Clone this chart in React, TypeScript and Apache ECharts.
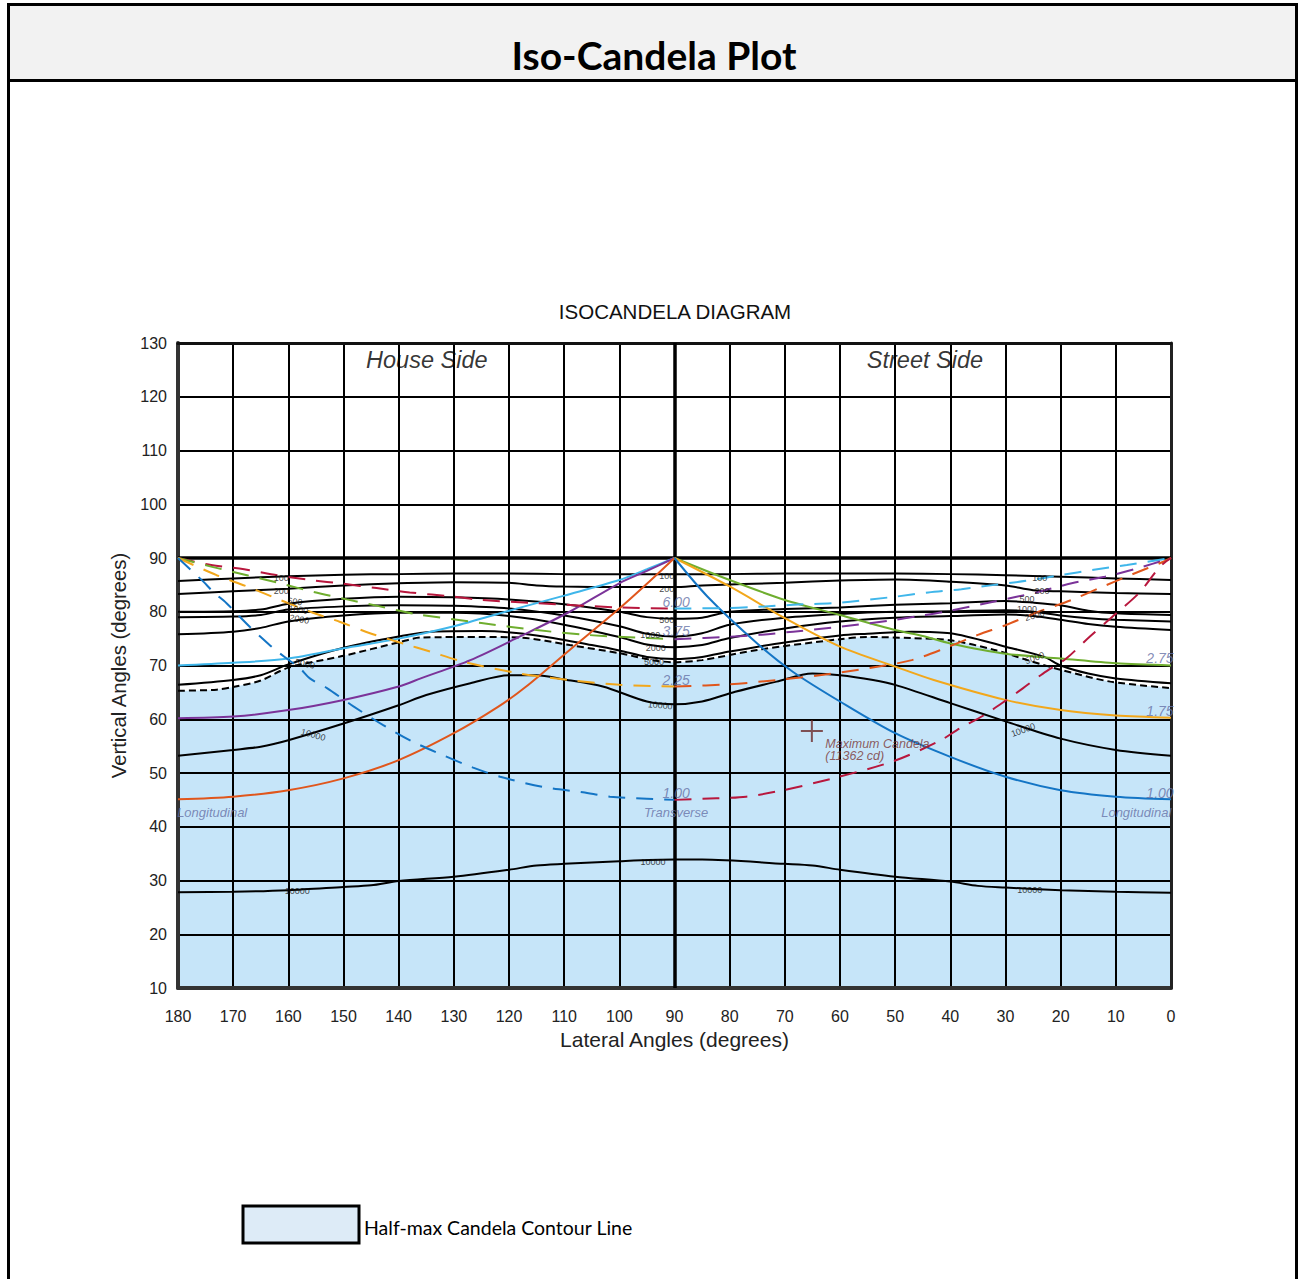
import React, { useEffect, useRef } from "react";
import * as echarts from "echarts";

// ---------- data (lateral angle, vertical angle) ----------
const c100 = [[180,85.7],[170,86.2],[160,86.6],[150,86.9],[140,87.0],[130,87.1],[120,87.1],[110,87.0],[100,87.0],[90,87.0],[80,87.0],[70,87.1],[60,87.1],[50,87.1],[40,87.0],[30,86.8],[20,86.5],[10,86.2],[0,85.9]];
const c200 = [[180,83.3],[170,83.8],[160,84.3],[150,84.9],[140,85.3],[130,85.5],[120,85.4],[115,84.9],[110,84.7],[100,84.6],[90,84.6],[85,84.9],[70,85.4],[60,85.8],[50,86.0],[40,85.6],[30,84.9],[25,84.0],[20,83.8],[10,83.5],[0,83.3]];
const c500 = [[180,80.0],[170,80.1],[165,80.4],[160,81.5],[150,82.4],[140,82.8],[130,82.7],[120,82.3],[110,81.4],[100,80.0],[95,79.0],[90,78.7],[85,78.9],[80,80.0],[70,80.5],[60,80.8],[50,81.3],[40,81.6],[30,82.0],[25,81.7],[20,81.2],[15,80.2],[10,79.7],[0,79.4]];
const c1000 = [[180,79.0],[170,79.1],[165,79.4],[160,80.4],[150,81.0],[140,81.2],[130,81.1],[120,80.6],[110,79.3],[100,77.3],[95,75.9],[90,75.4],[85,76.0],[80,77.6],[70,78.9],[60,79.6],[50,80.0],[40,80.1],[30,80.3],[25,80.0],[20,79.3],[15,78.8],[10,78.5],[0,78.2]];
const c2000 = [[180,75.8],[170,76.3],[165,77.0],[160,78.2],[150,79.3],[140,79.8],[130,79.8],[120,79.2],[110,77.6],[100,75.3],[95,73.9],[90,73.4],[85,73.8],[80,75.1],[70,76.9],[60,78.2],[50,78.9],[40,79.2],[30,79.5],[25,79.2],[20,78.5],[15,77.7],[10,77.2],[0,76.6]];
const c5000 = [[180,66.4],[170,67.3],[165,68.2],[160,70.2],[150,73.3],[140,75.4],[134,76.3],[125,76.4],[115,75.6],[105,73.8],[100,72.8],[95,71.6],[90,71.2],[85,71.6],[80,72.6],[70,74.3],[60,75.6],[55,75.9],[47,76.3],[40,76.0],[30,73.5],[23,71.6],[20,70.0],[15,68.5],[10,67.6],[0,66.7]];
const halfMax = [[180,65.3],[173,65.5],[170,66.0],[165,67.2],[160,69.6],[150,71.8],[140,74.3],[136,75.2],[125,75.3],[118,75.2],[109,73.8],[100,72.3],[94,71.0],[90,70.6],[85,71.0],[75,72.9],[60,74.9],[55,75.3],[47,75.1],[40,74.7],[32,72.9],[26,71.0],[20,69.2],[11,67.0],[0,65.8]];
const c10000Upper = [[180,53.2],[170,54.3],[165,54.9],[160,56.1],[150,59.2],[140,62.6],[135,64.5],[127,66.7],[120,68.2],[115,68.2],[110,67.4],[103,66.1],[95,63.3],[90,62.8],[85,63.3],[79,65.1],[71.5,67.0],[65,68.5],[60,68.2],[54,67.3],[50,66.4],[40,63.0],[30,59.6],[20,56.4],[10,54.3],[0,53.2]];
const c10000Lower = [[180,27.8],[170,27.9],[160,28.2],[150,28.8],[145,29.1],[140,29.9],[130,30.7],[120,32.0],[115,32.8],[110,33.1],[100,33.6],[90,33.9],[85,33.9],[70,33.1],[65,32.8],[60,32.0],[50,30.7],[40,29.8],[35,29.0],[30,28.7],[20,28.2],[10,27.9],[0,27.7]];

// longitudinal (solid) lines
const longLeft275 = [[180,70.0],[170,70.5],[160,71.3],[150,73.2],[140,75.0],[130,77.3],[120,80.2],[115,81.6],[110,83.0],[100,85.9],[95,87.9],[90,90]];
const longLeft175 = [[180,60.2],[170,60.5],[160,61.7],[150,63.6],[140,66.1],[136,67.6],[127,71.0],[118,75.4],[109,80.0],[100,85.3],[95,87.6],[90,90]];
const longLeft100 = [[180,45.1],[170,45.6],[160,46.8],[150,49.0],[140,52.4],[130,57.4],[122,62.3],[117,66.0],[109,72.9],[100,80.6],[95,85.2],[90,90]];
const longRight275 = [[90,90],[80,85.9],[70,82.2],[60,79.4],[50,76.6],[45,75.5],[40,74.1],[30,72.2],[20,71.3],[10,70.4],[0,70.0]];
const longRight175 = [[90,90],[80,84.7],[70,78.8],[60,73.5],[50,69.8],[43,67.3],[30,63.6],[20,61.7],[10,60.7],[0,60.3]];
const longRight100 = [[90,90],[84,82.8],[75,74.1],[68.5,68.8],[60,63.3],[50,57.4],[40,53.0],[30,49.3],[20,46.8],[10,45.6],[0,45.1]];

// transverse (dashed) lines
const transLeft600 = [[180,90],[174,88.7],[168,87.9],[162,86.8],[156,85.9],[150,85.2],[144,84.4],[138,83.6],[130,82.8],[125,82.2],[115,81.6],[100,80.8],[90,80.6]];
const transRight600 = [[90,80.6],[80,80.7],[75,80.9],[68.5,81.3],[60,81.7],[50,82.8],[44,83.6],[38,84.2],[32,85.0],[26,85.8],[20,86.8],[14,87.8],[8,88.7],[0,90]];
const transLeft375 = [[180,90],[174,88.4],[167.5,86.8],[161.5,85.3],[155.5,83.7],[149.4,82.3],[143.4,81.0],[137,79.6],[125,77.9],[115,76.6],[106,75.7],[95,75.1],[90,74.9]];
const transRight375 = [[90,74.9],[80.5,75.3],[74.5,75.7],[68.5,76.3],[60,77.2],[50,78.5],[45,79.3],[41,80.0],[32,81.9],[24,83.7],[18,85.3],[12,86.5],[6,88.1],[0,90]];
const transLeft225 = [[180,90],[173,86.8],[167.5,84.7],[161.5,82.2],[156,80.0],[150.6,78.1],[145.2,76.0],[139.2,74.1],[134.3,72.6],[128.3,70.7],[118,68.5],[109,67.3],[100,66.4],[90,66.1]];
const transRight225 = [[90,66.1],[80,66.5],[71.5,67.3],[62,68.4],[53,69.8],[47,71.0],[41,73.2],[35,75.7],[30,77.5],[24,80.0],[18,82.2],[13,84.4],[7.4,86.8],[1.4,89.3],[0,90]];
const transLeft100 = [[180,90],[178,88.1],[175.4,85.6],[173.6,83.7],[171.2,81.6],[169.4,79.7],[167,77.2],[165.1,75.4],[162.7,73.2],[160.3,71.3],[157.9,69.5],[156.1,67.6],[153,65.8],[148.2,62.4],[142.8,58.9],[137.4,55.8],[131.9,53.3],[126.5,51.0],[121.6,49.3],[113.8,47.4],[106.6,46.4],[101.7,45.6],[95,45.2],[90,45.0]];
const transRight100 = [[90,45.0],[82.4,45.3],[77,45.6],[70.3,46.8],[61.3,49.0],[50.3,52.2],[41.9,56.0],[38.3,58.3],[34,60.7],[29.8,63.6],[26.8,65.8],[23.2,68.5],[19,71.3],[14.7,75.4],[9.9,79.7],[5.6,83.7],[2,88.4],[0,90]];

const maxCandela = [65.1, 57.8];

const contourLabels = [
  { t: "100", p: [161.3, 86.3], r: 0 }, { t: "200", p: [161.3, 83.9], r: 0 },
  { t: "500", p: [158.8, 81.9], r: -8 }, { t: "1000", p: [158.2, 80.4], r: -8 },
  { t: "2000", p: [158.0, 78.6], r: -10 }, { t: "5000", p: [157.0, 70.3], r: -12 },
  { t: "10000", p: [155.5, 57.1], r: -15 }, { t: "10000", p: [158.4, 28.0], r: 0 },
  { t: "100", p: [91.4, 86.6], r: 0 }, { t: "200", p: [91.4, 84.2], r: 0 },
  { t: "500", p: [91.4, 78.5], r: 0 }, { t: "1000", p: [94.4, 75.6], r: 0 },
  { t: "2000", p: [93.4, 73.2], r: 0 }, { t: "5000", p: [93.7, 70.7], r: 0 },
  { t: "10000", p: [92.6, 62.6], r: -5 }, { t: "10000", p: [93.9, 33.5], r: 0 },
  { t: "100", p: [23.8, 86.3], r: 0 }, { t: "200", p: [23.4, 83.9], r: 0 },
  { t: "500", p: [26.1, 82.3], r: 0 }, { t: "1000", p: [26.1, 80.6], r: 0 },
  { t: "2000", p: [24.7, 79.3], r: 15 }, { t: "5000", p: [24.7, 71.4], r: 20 },
  { t: "10000", p: [26.8, 58.0], r: 20 }, { t: "10000", p: [25.6, 28.2], r: 0 },
];

const lineLabels = [
  { t: "6.00", p: [89.7, 81.8], s: 14 }, { t: "3.75", p: [89.7, 76.4], s: 14 },
  { t: "2.25", p: [89.7, 67.3], s: 14 }, { t: "1.00", p: [89.7, 46.3], s: 14 },
  { t: "Transverse", p: [89.7, 42.7], s: 13 },
  { t: "2.75", p: [2.0, 71.4], s: 14 }, { t: "1.75", p: [2.0, 61.5], s: 14 },
  { t: "1.00", p: [2.0, 46.3], s: 14 }, { t: "Longitudinal", p: [6.3, 42.7], s: 13 },
  { t: "Longitudinal", p: [173.8, 42.7], s: 13 },
];

const sideLabels = [
  { t: "House Side", p: [134.9, 126.8] },
  { t: "Street Side", p: [44.6, 126.8] },
];

const COLORS = {
  cyan: "#3fb6ea", purple: "#7b3399", orange: "#e0561c",
  green: "#6fae2f", gold: "#f2a71b", blue: "#1475c5", red: "#b8173d",
};

function line(data: number[][], color: string, dashed = false, width = 2, z = 5, smooth: number | boolean = 0.3) {
  return {
    type: "line", data, showSymbol: false, symbol: "none", smooth, z,
    lineStyle: { color, width, type: dashed ? [17, 11] : "solid" },
    silent: true, clip: true,
  };
}

export default function App() {
  const ref = useRef<HTMLDivElement>(null);
  useEffect(() => {
    if (!ref.current) return;
    const chart = echarts.init(ref.current, undefined, { renderer: "svg" });
    const font = "'Liberation Sans', Arial, sans-serif";
    const option: any = {
      animation: false,
      backgroundColor: "#ffffff",
      textStyle: { fontFamily: font },
      grid: { left: 178, right: 128, top: 343, bottom: 291 },
      xAxis: [
        {
          type: "value", min: 0, max: 180, interval: 10, inverse: true, z: 3,
          name: "Lateral Angles (degrees)", nameLocation: "middle", nameGap: 40,
          nameTextStyle: { fontSize: 21, color: "#222", fontFamily: font },
          axisLine: { show: true, onZero: false, lineStyle: { color: "#333", width: 4 } },
          axisTick: { show: false },
          axisLabel: { fontSize: 16, color: "#222", margin: 20, fontFamily: font },
          splitLine: { show: true, lineStyle: { color: "#000", width: 2 } },
        },
        {
          type: "value", min: 0, max: 180, inverse: true, position: "top", z: 4,
          axisLine: { show: true, onZero: false, lineStyle: { color: "#111", width: 3 } },
          axisTick: { show: false }, axisLabel: { show: false }, splitLine: { show: false },
        },
      ],
      yAxis: [
        {
          type: "value", min: 10, max: 130, interval: 10, z: 3,
          name: "Vertical Angles (degrees)", nameLocation: "middle", nameGap: 49,
          nameTextStyle: { fontSize: 20.3, color: "#222", fontFamily: font },
          axisLine: { show: true, onZero: false, lineStyle: { color: "#333", width: 4 } },
          axisTick: { show: false },
          axisLabel: { fontSize: 16, color: "#222", margin: 11, fontFamily: font, padding: [6, 0, 0, 0] },
          splitLine: { show: true, lineStyle: { color: "#000", width: 2 } },
        },
        {
          type: "value", min: 10, max: 130, position: "right", z: 4,
          axisLine: { show: true, onZero: false, lineStyle: { color: "#222", width: 3 } },
          axisTick: { show: false }, axisLabel: { show: false }, splitLine: { show: false },
        },
      ],
      graphic: [
        { type: "rect", shape: { x: 8, y: 4, width: 1288, height: 76 }, style: { fill: "#f2f2f2" }, z: -1 },
        { type: "rect", shape: { x: 8.5, y: 4.5, width: 1288, height: 1300 }, style: { fill: "none", stroke: "#000", lineWidth: 3 }, z: 10 },
        { type: "line", shape: { x1: 8, y1: 80.5, x2: 1296, y2: 80.5 }, style: { stroke: "#000", lineWidth: 3 }, z: 10 },
        { type: "text", x: 654, y: 55, style: { text: "Iso-Candela Plot", font: "bold 39px Lato, 'Open Sans', sans-serif", fill: "#000", textAlign: "center", textVerticalAlign: "middle" }, z: 10 },
        { type: "text", x: 675, y: 311, style: { text: "ISOCANDELA DIAGRAM", font: "20.5px 'Liberation Sans', Arial, sans-serif", fill: "#111", textAlign: "center", textVerticalAlign: "middle" }, z: 10 },
        { type: "rect", shape: { x: 243, y: 1206, width: 116, height: 37 }, style: { fill: "#ddebf7", stroke: "#000", lineWidth: 3 }, z: 10 },
        { type: "text", x: 364, y: 1227, style: { text: "Half-max Candela Contour Line", font: "19.5px Lato, 'Open Sans', sans-serif", fill: "#000", textAlign: "left", textVerticalAlign: "middle" }, z: 10 },
      ],
      series: [
        {
          type: "line", data: halfMax, showSymbol: false, symbol: "none", smooth: 0.3, z: 1,
          lineStyle: { width: 0, opacity: 0 },
          areaStyle: { color: "#c6e5f9", opacity: 1, origin: "start" }, silent: true,
        },
        line(c100, "#000"), line(c200, "#000"), line(c500, "#000"), line(c1000, "#000"),
        line(c2000, "#000"), line(c5000, "#000"),
        line(c10000Upper, "#000"), line(c10000Lower, "#000"),
        {
          ...line(halfMax, "#000"),
          lineStyle: { color: "#000", width: 2, type: [7, 4] },
          markLine: {
            silent: true, symbol: "none", label: { show: false },
            lineStyle: { color: "#000", width: 3.5, type: "solid" },
            data: [{ xAxis: 90 }, { yAxis: 90 }],
          },
        },
        line(longLeft275, COLORS.cyan, false, 2, 6),
        line(longLeft175, COLORS.purple, false, 2, 6),
        line(longLeft100, COLORS.orange, false, 2, 6),
        line(longRight275, COLORS.green, false, 2, 6),
        line(longRight175, COLORS.gold, false, 2, 6),
        line(longRight100, COLORS.blue, false, 2, 6),
        line(transLeft600, COLORS.red, true, 2, 6),
        line(transRight600, COLORS.cyan, true, 2, 6),
        line(transLeft375, COLORS.green, true, 2, 6),
        line(transRight375, COLORS.purple, true, 2, 6),
        line(transLeft225, COLORS.gold, true, 2, 6),
        line(transRight225, COLORS.orange, true, 2, 6),
        line(transLeft100, COLORS.blue, true, 2, 6),
        line(transRight100, COLORS.red, true, 2, 6),
        {
          type: "scatter", z: 8, silent: true, symbolSize: 1,
          itemStyle: { color: "rgba(0,0,0,0)" },
          data: contourLabels.map((d) => ({
            value: d.p,
            label: {
              show: true, position: "inside", formatter: d.t, rotate: d.r,
              fontSize: 9, color: "#111", fontFamily: font,
            },
          })),
        },
        {
          type: "scatter", z: 8, silent: true, symbolSize: 1,
          itemStyle: { color: "rgba(0,0,0,0)" },
          data: lineLabels.map((d) => ({
            value: d.p,
            label: {
              show: true, position: "inside", formatter: d.t,
              fontSize: d.s, fontStyle: "italic", color: "#6671a6", fontFamily: font,
            },
          })),
        },
        {
          type: "scatter", z: 8, silent: true, symbolSize: 1,
          itemStyle: { color: "rgba(0,0,0,0)" },
          data: sideLabels.map((d) => ({
            value: d.p,
            label: {
              show: true, position: "inside", formatter: d.t,
              fontSize: 23.5, fontStyle: "italic", color: "#000", fontFamily: font,
            },
          })),
        },
        {
          type: "scatter", z: 9, silent: true,
          symbol: "path://M0,10 L20,10 M10,0 L10,20", symbolSize: 22,
          itemStyle: { color: "none", borderColor: "#6b2a2a", borderWidth: 2 },
          data: [{
            value: maxCandela,
            label: {
              show: true, position: [27, 20], formatter: "Maximum Candela\n(11362 cd)",
              fontSize: 12.5, lineHeight: 12, fontStyle: "italic", color: "#7a3535",
              align: "left", verticalAlign: "top", fontFamily: font,
            },
          }],
        },
      ],
    };
    chart.setOption(option);
    return () => chart.dispose();
  }, []);
  return (
    <div
      ref={ref}
      style={{ position: "absolute", left: 0, top: 0, width: 1299, height: 1279 }}
    />
  );
}
